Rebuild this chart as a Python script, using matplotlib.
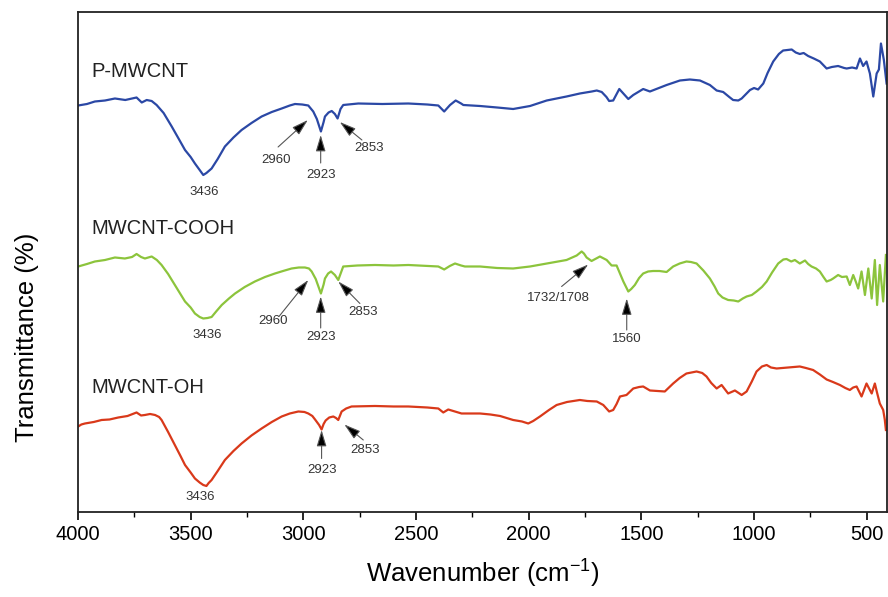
import matplotlib.pyplot as plt
from matplotlib.ticker import MultipleLocator

plt.rcParams['font.family'] = ['Liberation Sans', 'DejaVu Sans']
plt.rcParams['mathtext.default'] = 'regular'

# wavenumber (cm-1) and transmittance (arbitrary offset units)
p_wn = [3999, 3960, 3925, 3880, 3836, 3790, 3740, 3717, 3695, 3673, 3651, 3620, 3584, 3555,
        3525, 3500, 3481, 3460, 3444, 3430, 3407, 3380, 3348, 3310, 3274, 3230, 3185, 3140,
        3096, 3060, 3037, 3005, 2978, 2956, 2940, 2922, 2910, 2904, 2888, 2874, 2860, 2848,
        2835, 2823, 2756, 2650, 2534, 2450, 2401, 2375, 2349, 2324, 2300, 2290, 2216, 2140,
        2069, 1994, 1920, 1832, 1773, 1720, 1698, 1676, 1655, 1643, 1625, 1598, 1580, 1558,
        1536, 1492, 1462, 1388, 1329, 1285, 1240, 1196, 1166, 1137, 1110, 1093, 1070, 1055,
        1018, 1000, 982, 959, 940, 915, 890, 871, 833, 815, 797, 780, 760, 735, 708, 678,
        655, 627, 600, 589, 565, 545, 530, 516, 501, 486, 471, 456, 446, 437, 424, 412]
p_t = [81.3, 81.6, 82.1, 82.3, 82.7, 82.4, 82.9, 81.9, 82.4, 82.2, 81.4, 79.8, 77.1, 74.8,
       72.4, 71.0, 69.7, 68.4, 67.4, 67.8, 68.7, 70.6, 73.1, 74.9, 76.4, 77.8, 79.1, 80.0,
       80.7, 81.3, 81.6, 81.5, 81.3, 80.1, 78.6, 76.1, 78.0, 79.1, 79.9, 80.2, 79.6, 78.7,
       80.6, 81.4, 81.7, 81.6, 81.7, 81.5, 81.3, 80.1, 81.4, 82.3, 81.7, 81.4, 81.2, 80.9,
       80.6, 81.2, 82.3, 83.1, 83.7, 84.1, 84.3, 84.0, 83.0, 82.2, 82.3, 84.6, 83.7, 82.6,
       83.4, 84.6, 84.1, 85.4, 86.3, 86.5, 86.3, 85.4, 84.3, 84.0, 83.0, 82.4, 82.3, 82.7,
       84.4, 84.8, 84.5, 85.7, 87.8, 90.1, 91.6, 92.3, 92.5, 91.9, 91.6, 91.8, 91.2, 90.7,
       90.1, 88.7, 89.0, 89.2, 88.8, 88.7, 88.9, 88.7, 90.7, 89.2, 90.1, 87.7, 83.1, 87.7,
       88.5, 93.7, 90.4, 85.7]

c_wn = [3999, 3960, 3925, 3880, 3836, 3792, 3760, 3740, 3720, 3703, 3673, 3650, 3629, 3600,
        3570, 3545, 3525, 3500, 3481, 3460, 3444, 3425, 3407, 3385, 3362, 3330, 3303, 3260,
        3215, 3170, 3126, 3090, 3052, 3020, 2993, 2975, 2963, 2945, 2922, 2910, 2904, 2890,
        2877, 2860, 2845, 2832, 2823, 2760, 2682, 2600, 2534, 2450, 2401, 2375, 2350, 2327,
        2300, 2283, 2216, 2140, 2069, 1994, 1920, 1870, 1832, 1787, 1765, 1755, 1743, 1721,
        1700, 1684, 1654, 1632, 1610, 1595, 1580, 1558, 1545, 1529, 1510, 1492, 1470, 1448,
        1420, 1388, 1359, 1330, 1300, 1280, 1255, 1225, 1196, 1175, 1159, 1140, 1115, 1090,
        1070, 1050, 1033, 1010, 989, 965, 944, 920, 893, 870, 856, 835, 819, 797, 774, 760,
        745, 725, 708, 692, 678, 660, 649, 627, 610, 589, 575, 560, 548, 538, 523, 508, 493,
        478, 464, 454, 442, 427, 415]
c_t = [49.1, 49.6, 50.1, 50.4, 50.9, 50.7, 51.0, 51.6, 51.0, 50.7, 51.1, 50.4, 49.4, 47.6,
       45.4, 43.6, 42.1, 40.9, 39.7, 39.0, 38.7, 38.8, 39.0, 40.2, 41.4, 42.7, 43.7, 45.0,
       46.1, 47.0, 47.7, 48.2, 48.7, 48.9, 48.9, 48.7, 48.1, 46.6, 43.7, 45.5, 46.7, 47.7,
       48.1, 47.4, 46.4, 48.0, 49.1, 49.3, 49.4, 49.3, 49.4, 49.2, 49.1, 48.5, 49.2, 49.7,
       49.3, 49.1, 49.1, 48.8, 48.7, 49.1, 49.7, 50.1, 50.4, 51.3, 52.1, 51.7, 50.9, 50.2,
       50.7, 51.1, 50.4, 49.3, 49.3, 47.7, 46.1, 44.1, 44.6, 45.4, 46.8, 47.7, 48.1, 48.2,
       48.2, 48.0, 49.1, 49.7, 50.1, 50.0, 49.7, 48.3, 46.7, 45.1, 43.7, 42.9, 42.4, 42.3,
       42.1, 42.7, 43.1, 43.4, 44.1, 45.0, 46.1, 47.9, 49.7, 50.5, 50.6, 50.1, 50.4, 49.7,
       50.3, 49.6, 49.1, 48.7, 48.1, 47.0, 46.1, 46.4, 46.7, 47.4, 47.0, 47.1, 45.4, 47.4,
       46.0, 44.7, 48.1, 43.4, 48.7, 42.7, 50.4, 41.4, 49.4, 42.1, 51.4]

o_wn = [3999, 3985, 3969, 3930, 3895, 3860, 3821, 3780, 3740, 3720, 3703, 3680, 3658, 3640,
        3629, 3600, 3570, 3545, 3525, 3500, 3481, 3460, 3444, 3430, 3420, 3407, 3380, 3348,
        3310, 3274, 3230, 3185, 3140, 3096, 3060, 3022, 2995, 2978, 2960, 2948, 2930, 2919,
        2910, 2901, 2885, 2867, 2855, 2845, 2830, 2810, 2786, 2682, 2600, 2534, 2450, 2401,
        2379, 2357, 2320, 2298, 2216, 2170, 2127, 2069, 2030, 2002, 1980, 1950, 1910, 1876,
        1830, 1773, 1740, 1698, 1669, 1655, 1643, 1625, 1610, 1595, 1566, 1536, 1510, 1492,
        1462, 1430, 1396, 1380, 1359, 1330, 1300, 1255, 1230, 1211, 1190, 1166, 1144, 1115,
        1085, 1055, 1033, 1010, 989, 965, 944, 925, 900, 850, 797, 770, 738, 708, 678, 650,
        619, 595, 575, 560, 545, 523, 501, 478, 464, 455, 442, 427, 420, 415]
o_t = [17.1, 17.5, 17.7, 18.0, 18.4, 18.5, 18.9, 19.2, 19.9, 19.3, 19.4, 19.6, 19.4, 19.0,
       18.4, 16.0, 13.4, 11.2, 9.4, 7.9, 6.7, 5.9, 5.4, 5.2, 5.8, 6.4, 8.2, 10.4,
       12.2, 13.7, 15.3, 16.7, 18.0, 19.1, 19.7, 20.1, 20.0, 19.7, 19.2, 18.5, 17.4, 16.5,
       17.6, 18.3, 18.9, 19.1, 18.8, 18.4, 20.1, 20.7, 21.1, 21.2, 21.1, 21.1, 20.9, 20.7,
       19.9, 20.5, 20.0, 19.7, 19.7, 19.5, 19.2, 18.4, 18.1, 17.7, 18.2, 19.1, 20.4, 21.4,
       22.0, 22.4, 22.2, 22.1, 21.4, 20.7, 20.1, 20.4, 21.6, 23.1, 23.4, 24.7, 25.0, 25.1,
       24.3, 24.2, 24.1, 24.8, 25.7, 26.8, 27.7, 28.1, 27.8, 27.1, 25.8, 24.7, 25.4, 23.7,
       24.3, 23.4, 24.1, 26.1, 28.1, 29.1, 29.4, 28.9, 28.7, 28.9, 29.1, 28.8, 28.4, 27.5,
       26.5, 26.0, 25.4, 24.8, 24.4, 24.9, 25.1, 23.1, 25.7, 23.7, 25.7, 24.0, 21.7, 20.4,
       18.5, 16.4]

names = ['P-MWCNT', 'MWCNT-COOH', 'MWCNT-OH']

fig = plt.figure(figsize=(8.88, 5.97), dpi=100)
ax = fig.add_axes([0.0878, 0.1424, 0.9111, 0.8375])

ax.plot(p_wn, p_t, color='#2b48a5', lw=1.6)
ax.plot(c_wn, c_t, color='#8cc43c', lw=1.6)
ax.plot(o_wn, o_t, color='#d9391a', lw=1.6)

# series names
for name, ty in zip(names, [88.0, 56.6, 24.8]):
    ax.text(3942, ty, name, fontsize=14.5, color='#222222', ha='left', va='center')

# peak labels: (text, text pos, arrow tail, arrow tip)
peaks = [
    ('3436', (3440, 64.0), None, None),
    ('2960', (3121, 70.4), (3112, 73.0), (2980, 78.4)),
    ('2923', (2923, 67.4), (2923, 69.8), (2923, 75.4)),
    ('2853', (2709, 72.8), (2740, 74.4), (2838, 78.0)),
    ('3436', (3428, 35.4), None, None),
    ('2960', (3133, 38.1), (3108, 39.1), (2978, 46.4)),
    ('2923', (2923, 34.9), (2923, 36.8), (2923, 43.1)),
    ('2853', (2734, 39.9), (2749, 41.7), (2845, 46.1)),
    ('1732/1708', (1869, 42.7), (1854, 45.1), (1736, 49.5)),
    ('1560', (1565, 34.6), (1565, 36.4), (1565, 42.7)),
    ('3436', (3459, 2.9), None, None),
    ('2923', (2919, 8.4), (2919, 10.7), (2919, 16.4)),
    ('2853', (2727, 12.3), (2734, 14.4), (2818, 17.5)),
]
for label, tpos, tail, tip in peaks:
    ax.text(tpos[0], tpos[1], label, fontsize=9.5, color='#333333', ha='center', va='center')
    if tip is not None:
        ax.annotate('', xy=tip, xytext=tail,
                    arrowprops=dict(arrowstyle='-|>,head_length=1.0,head_width=0.3',
                                    lw=0.8, shrinkA=0, shrinkB=0,
                                    fc='black', ec='#555555'))

ax.set_xlim(4000, 410)
ax.set_ylim(0, 100)
ax.set_yticks([])
ax.xaxis.set_major_locator(MultipleLocator(500))
ax.xaxis.set_minor_locator(MultipleLocator(250))
ax.tick_params(axis='x', which='major', direction='out', length=6, width=1.2, labelsize=14.5)
ax.tick_params(axis='x', which='minor', direction='out', length=3.5, width=1.0)
for s in ax.spines.values():
    s.set_linewidth(1.3)
    s.set_color('#222222')

ax.set_xlabel('Wavenumber (cm$^{-1}$)', fontsize=18.5, labelpad=10)
fig.text(0.03, 0.435, 'Transmittance (%)', rotation=90, fontsize=18.5, ha='center', va='center')

fig.savefig('out.png', dpi=100)
